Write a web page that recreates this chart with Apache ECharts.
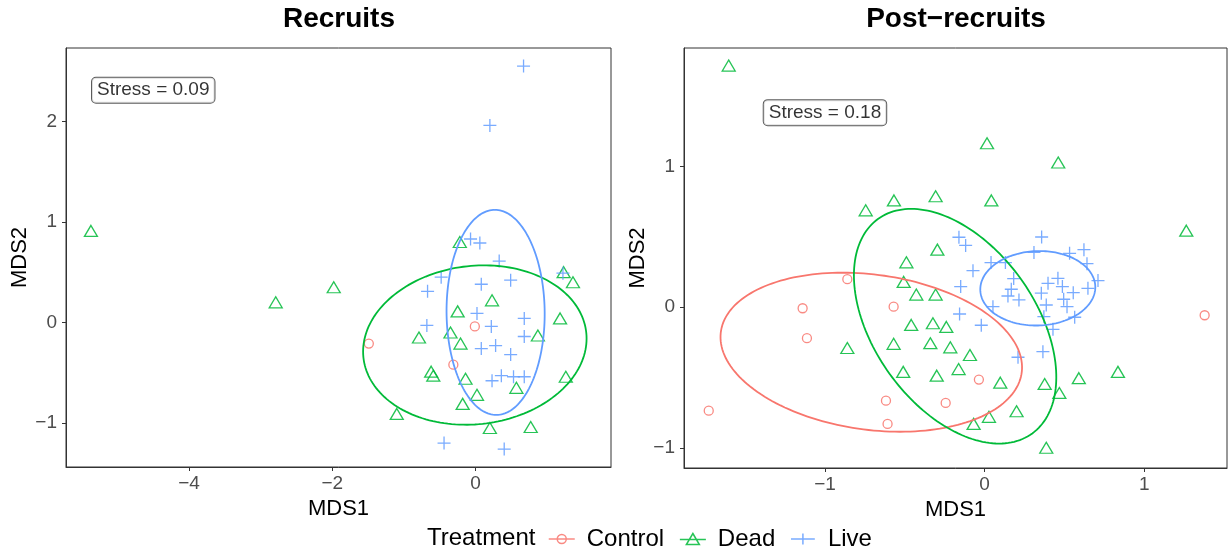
<!DOCTYPE html>
<html>
<head>
<meta charset="utf-8">
<script src="https://cdn.jsdelivr.net/npm/echarts@6/dist/echarts.min.js"></script>
<style>
html,body{margin:0;padding:0;background:#fff;}
#chart{width:1228px;height:553px;}
</style>
</head>
<body>
<div id="chart"></div>
<script>
// ---------- DATA ----------
const panelTitles = ['Recruits', 'Post\u2212recruits'];
const groups = ['Control', 'Dead', 'Live'];
const stressLabels = ['Stress = 0.09', 'Stress = 0.18'];

const recruitsXTicks = [-4, -2, 0];
const recruitsYTicks = [-1, 0, 1, 2];
const postXTicks = [-1, 0, 1];
const postYTicks = [-1, 0, 1];

const recruitsControl = [[-1.49,-0.21],[-0.01,-0.04],[-0.31,-0.42]];
const recruitsDead = [[-5.37,0.91],[-2.79,0.20],[-1.98,0.35],[-0.22,0.80],[1.23,0.50],[1.36,0.40],
  [0.23,0.22],[-0.25,0.11],[1.18,0.04],[-0.79,-0.15],[-0.35,-0.10],[-0.21,-0.21],[0.87,-0.13],
  [-0.62,-0.49],[-0.59,-0.53],[-0.14,-0.56],[0.57,-0.65],[1.26,-0.54],[0.02,-0.72],[-0.18,-0.81],
  [-1.10,-0.91],[0.20,-1.05],[0.77,-1.04]];
const recruitsLive = [[0.67,2.55],[0.20,1.96],[-0.07,0.83],[0.06,0.79],[0.33,0.61],[-0.48,0.45],
  [1.22,0.49],[0.49,0.42],[0.08,0.38],[-0.67,0.31],[0.02,0.09],[0.68,0.04],[-0.68,-0.03],
  [0.22,-0.04],[0.68,-0.14],[0.08,-0.26],[0.28,-0.23],[0.49,-0.32],[0.36,-0.53],[0.53,-0.54],
  [0.68,-0.54],[0.23,-0.58],[-0.44,-1.20],[0.40,-1.26]];

const postControl = [[-0.86,0.20],[-1.14,-0.007],[-0.57,0.004],[-1.113,-0.22],[-1.728,-0.736],
  [-0.618,-0.665],[-0.608,-0.83],[1.378,-0.057],[-0.036,-0.515],[-0.244,-0.681]];
const postDead = [[-1.603,1.72],[-0.745,0.69],[-0.568,0.76],[-0.307,0.79],[-0.296,0.41],[-0.49,0.32],
  [-0.507,0.18],[-0.86,-0.29],[-0.428,0.09],[-0.307,0.09],[-0.46,-0.126],[-0.324,-0.114],
  [-0.57,-0.26],[-0.34,-0.256],[-0.51,-0.46],[-0.30,-0.487],[0.015,1.167],[0.461,1.03],
  [0.042,0.76],[1.263,0.545],[-0.24,-0.14],[-0.215,-0.285],[-0.092,-0.34],[-0.163,-0.44],
  [0.098,-0.537],[0.376,-0.546],[0.468,-0.61],[0.59,-0.505],[0.835,-0.46],[0.20,-0.74],
  [0.027,-0.78],[-0.069,-0.83],[0.386,-1.0]];
const postLive = [[-0.161,0.498],[-0.119,0.44],[0.357,0.50],[0.309,0.39],[0.532,0.384],[0.622,0.41],
  [0.641,0.31],[0.04,0.318],[0.13,0.318],[-0.073,0.26],[0.182,0.204],[0.459,0.206],[0.397,0.17],
  [0.487,0.147],[0.71,0.19],[0.647,0.135],[0.555,0.104],[-0.15,0.147],[0.167,0.128],[0.355,0.10],
  [0.146,0.08],[0.215,0.052],[0.386,0.016],[0.495,0.057],[0.516,0.004],[0.052,0.004],
  [-0.157,-0.048],[0.371,-0.067],[0.564,-0.071],[-0.021,-0.128],[0.428,-0.157],[0.365,-0.316],
  [0.209,-0.356]];

// ellipses: [centerX, centerY, conjugate semi-axis 1 (dx, dy), conjugate semi-axis 2 (dx, dy)]
const recruitsDeadEllipse = [-0.01, -0.225, 1.56, 0.065, 0, 0.79];
const recruitsLiveEllipse = [0.28, 0.10, -0.01, 1.02, 0.685, 0];
const postControlEllipse = [-0.71, -0.32, -0.18, 0.566, 0.927, 0];
const postDeadEllipse = [-0.185, -0.135, -0.275, 0.835, 0.571, 0];
const postLiveEllipse = [0.333, 0.135, 0.011, 0.265, 0.36, 0];

// ---------- STYLE ----------
const FONT = '"Liberation Sans", Arial, Helvetica, sans-serif';
const COLORS = { Control: '#F8766D', Dead: '#00BA38', Live: '#619CFF' };
const SYMBOLS = {
  Control: { symbol: 'circle', size: 9 },
  Dead: { symbol: 'triangle', size: [13, 11] },
  Live: { symbol: 'path://M0,6L12,6M6,0L6,12', size: 13 }
};
const fmt = v => String(v).replace('-', '\u2212');

function pointSeries(name, data, idx) {
  return {
    type: 'scatter', name: name, data: data, xAxisIndex: idx, yAxisIndex: idx,
    symbol: SYMBOLS[name].symbol, symbolSize: SYMBOLS[name].size, z: 2,
    itemStyle: { color: 'transparent', borderColor: COLORS[name], borderWidth: 1.3, opacity: 0.85 },
    emphasis: { disabled: true }, silent: true
  };
}
function ellipseSeries(name, params, idx) {
  return {
    type: 'custom', name: name, xAxisIndex: idx, yAxisIndex: idx, z: 3, silent: true,
    data: [params],
    renderItem: function (p, api) {
      const cx = api.value(0), cy = api.value(1);
      const ax = api.value(2), ay = api.value(3), bx = api.value(4), by = api.value(5);
      const pts = [];
      const n = 180;
      for (let i = 0; i <= n; i++) {
        const t = 2 * Math.PI * i / n;
        pts.push(api.coord([cx + Math.cos(t) * ax + Math.sin(t) * bx,
                            cy + Math.cos(t) * ay + Math.sin(t) * by]));
      }
      return { type: 'polyline', shape: { points: pts },
               style: { stroke: COLORS[name], lineWidth: 1.8, fill: null } };
    }
  };
}
function stressSeries(text, pos, idx) {
  return {
    type: 'scatter', xAxisIndex: idx, yAxisIndex: idx, data: [pos], symbol: 'rect', symbolSize: 1,
    itemStyle: { color: 'transparent' }, silent: true, z: 4,
    label: { show: true, position: 'inside', formatter: text, fontFamily: FONT, fontSize: 19,
             color: '#000', backgroundColor: '#fff', borderColor: '#333', borderWidth: 1,
             borderRadius: 4, padding: [2, 5, 2, 5], lineHeight: 21 }
  };
}
function xAxis(idx, min, max, ticks) {
  return {
    gridIndex: idx, type: 'value', min: min, max: max,
    axisLine: { show: true, onZero: false, lineStyle: { color: '#333', width: 1 } },
    axisTick: { show: true, customValues: ticks, length: 4, lineStyle: { color: '#333' } },
    axisLabel: { customValues: ticks, formatter: fmt, fontFamily: FONT, fontSize: 19, color: '#4D4D4D', margin: 7 },
    splitLine: { show: false },
    name: 'MDS1', nameLocation: 'middle', nameGap: 31,
    nameTextStyle: { fontFamily: FONT, fontSize: 22, color: '#000' }
  };
}
function yAxis(idx, min, max, ticks) {
  return {
    gridIndex: idx, type: 'value', min: min, max: max,
    axisLine: { show: true, onZero: false, lineStyle: { color: '#333', width: 1 } },
    axisTick: { show: true, customValues: ticks, length: 4, lineStyle: { color: '#333' } },
    axisLabel: { customValues: ticks, formatter: fmt, fontFamily: FONT, fontSize: 19, color: '#4D4D4D', margin: 9 },
    splitLine: { show: false },
    name: 'MDS2', nameLocation: 'middle', nameGap: 33,
    nameTextStyle: { fontFamily: FONT, fontSize: 22, color: '#000' }
  };
}

const legendIcons = {
  Control: 'path://M0,4.5L26,4.5M17.5,4.5A4.5,4.5,0,1,1,8.5,4.5A4.5,4.5,0,1,1,17.5,4.5Z',
  Dead: 'path://M0,6L26,6M13,0L19.5,11L6.5,11Z',
  Live: 'path://M0,6L26,6M13,0L13,12'
};

const chart = echarts.init(document.getElementById('chart'), null, { renderer: 'canvas' });
chart.setOption({
  backgroundColor: '#fff',
  animation: false,
  title: [
    { text: panelTitles[0], left: 339, top: 5, textAlign: 'center', padding: 0,
      textStyle: { fontFamily: FONT, fontSize: 28, fontWeight: 'bold', color: '#000' } },
    { text: panelTitles[1], left: 956, top: 5, textAlign: 'center', padding: 0,
      textStyle: { fontFamily: FONT, fontSize: 28, fontWeight: 'bold', color: '#000' } }
  ],
  grid: [
    { left: 66, top: 48, width: 545, height: 419, show: true, borderColor: '#333', borderWidth: 1, backgroundColor: '#fff' },
    { left: 684, top: 48, width: 543, height: 420, show: true, borderColor: '#333', borderWidth: 1, backgroundColor: '#fff' }
  ],
  xAxis: [xAxis(0, -5.718, 1.891, recruitsXTicks), xAxis(1, -1.883, 1.518, postXTicks)],
  yAxis: [yAxis(0, -1.438, 2.730, recruitsYTicks), yAxis(1, -1.144, 1.845, postYTicks)],
  legend: {
    left: 548, top: 527, padding: 0, itemWidth: 26, itemHeight: 11, itemGap: 15, selectedMode: false,
    textStyle: { fontFamily: FONT, fontSize: 24, color: '#000', padding: [0, 0, 0, 7] },
    data: groups.map(g => ({ name: g, icon: legendIcons[g],
      itemStyle: { color: 'transparent', borderColor: COLORS[g], borderWidth: 1.5 } }))
  },
  graphic: [
    { type: 'text', x: 427, y: 538, style: { text: 'Treatment', fontFamily: FONT, fontSize: 24, fill: '#000', verticalAlign: 'middle' } }
  ],
  series: [
    pointSeries('Control', recruitsControl, 0),
    pointSeries('Dead', recruitsDead, 0),
    pointSeries('Live', recruitsLive, 0),
    ellipseSeries('Dead', recruitsDeadEllipse, 0),
    ellipseSeries('Live', recruitsLiveEllipse, 0),
    stressSeries(stressLabels[0], [-4.5, 2.31], 0),
    pointSeries('Control', postControl, 1),
    pointSeries('Dead', postDead, 1),
    pointSeries('Live', postLive, 1),
    ellipseSeries('Control', postControlEllipse, 1),
    ellipseSeries('Dead', postDeadEllipse, 1),
    ellipseSeries('Live', postLiveEllipse, 1),
    stressSeries(stressLabels[1], [-1.0, 1.385], 1)
  ]
});
</script>
</body>
</html>
